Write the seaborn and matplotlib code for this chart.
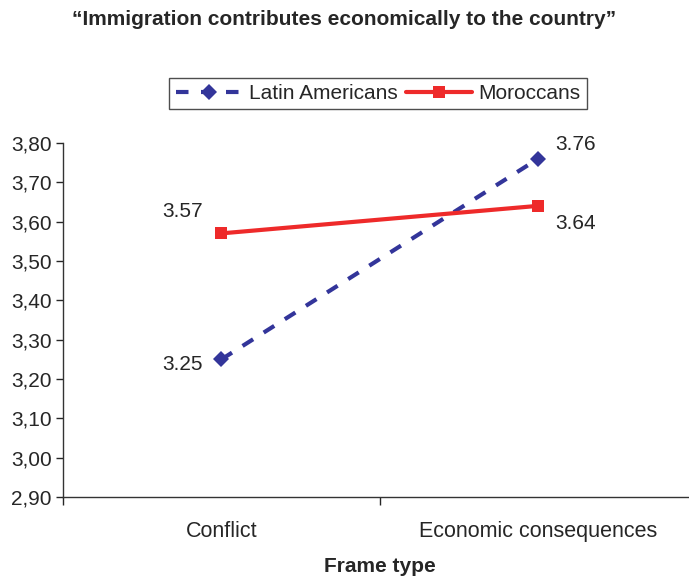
import seaborn as sns
import pandas as pd
import numpy as np
import matplotlib.pyplot as plt
from matplotlib.ticker import FixedLocator, FuncFormatter
from matplotlib.lines import Line2D

frames = ["Conflict", "Economic consequences"]
latin = [3.25, 3.76]
moroccan = [3.57, 3.64]
groups = ["Latin Americans", "Moroccans"]
yticks = [2.90, 3.00, 3.10, 3.20, 3.30, 3.40, 3.50, 3.60, 3.70, 3.80]

df = pd.DataFrame({
    "frame": frames * 2,
    "score": latin + moroccan,
    "group": [groups[0]] * 2 + [groups[1]] * 2,
})

sns.set_style("white")
plt.rcParams["font.family"] = ["Liberation Sans", "DejaVu Sans"]

blue = "#33359a"
red = "#ee2a2a"

fig = plt.figure(figsize=(6.89, 5.76), dpi=100)
ax = fig.add_axes([0.0914, 0.137, 0.92, 0.615])

sns.lineplot(data=df, x="frame", y="score", hue="group", style="group",
             palette=[blue, red], markers=["D", "s"],
             dashes=[(3, 3), ""], linewidth=3, markersize=8.5,
             markeredgewidth=0, ax=ax, legend=False)

ax.set_xlim(-0.5, 1.5)
ax.set_ylim(2.90, 3.80)
ax.set_yticks(yticks)
ax.yaxis.set_major_formatter(FuncFormatter(lambda v, p: f"{v:.2f}".replace(".", ",")))
ax.tick_params(axis="y", length=5, width=1, direction="out", labelsize=15, left=True, pad=3)
ax.set_xticks([0, 1])
ax.set_xticklabels(frames)
ax.tick_params(axis="x", which="major", length=0, pad=17, labelsize=15.5)
ax.xaxis.set_minor_locator(FixedLocator([-0.5, 0.5]))
ax.tick_params(axis="x", which="minor", length=6, width=1, direction="out", bottom=True)
for s in ["top", "right"]:
    ax.spines[s].set_visible(False)
for s in ["left", "bottom"]:
    ax.spines[s].set_color("#333333")
    ax.spines[s].set_linewidth(1)

ax.set_xlabel("Frame type", fontsize=15, fontweight="bold", labelpad=11)
ax.set_ylabel("")

# value labels
ax.text(-0.06, 3.238, f"{latin[0]:.2f}", fontsize=15, ha="right", va="center")
ax.text(-0.06, 3.625, f"{moroccan[0]:.2f}", fontsize=15, ha="right", va="center")
ax.text(1.053, 3.795, f"{latin[1]:.2f}", fontsize=15, ha="left", va="center")
ax.text(1.053, 3.594, f"{moroccan[1]:.2f}", fontsize=15, ha="left", va="center")

handles = [
    Line2D([], [], color=blue, linestyle=(0, (3, 3)), linewidth=3,
           marker="D", markersize=8.5, markeredgewidth=0),
    Line2D([], [], color=red, linewidth=3, marker="s", markersize=8.5,
           markeredgewidth=0),
]
fig.legend(handles, groups, loc="center", bbox_to_anchor=(0.549, 0.838), ncol=2,
           frameon=True, fancybox=False, edgecolor="#222222", fontsize=15,
           handlelength=3.2, columnspacing=0.4, handletextpad=0.3,
           borderpad=0.3)

fig.text(0.5, 0.966, "\u201cImmigration contributes economically to the country\u201d",
         ha="center", va="center", fontsize=15, fontweight="bold")

fig.savefig("out.png", dpi=100)
